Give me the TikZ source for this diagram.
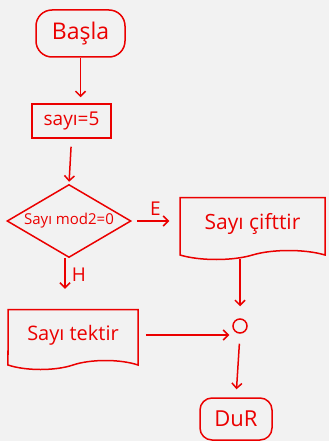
\documentclass[tikz,border=0pt]{standalone}
\usepackage{fontspec}
\setmainfont{Open Sans}
\usetikzlibrary{shapes.geometric,shapes.symbols,arrows.meta}
\definecolor{ink}{RGB}{235,0,0}
\definecolor{bg}{RGB}{242,242,242}
\begin{document}
\begin{tikzpicture}[x=1pt,y=-1pt,
  box/.style={draw=ink, line width=1.5pt, text=ink, inner sep=0pt},
  term/.style={box, rectangle, rounded corners=16pt},
  proc/.style={box, rectangle},
  dec/.style={box, diamond, aspect=1.67},
  doc/.style={box, tape, tape bend top=none, tape bend bottom=in and out, tape bend height=9pt},
  flow/.style={draw=ink, line width=1.5pt, -{Straight Barb[length=5pt,width=10pt]}},
  lbl/.style={text=ink, font=\fontsize{19}{19}\selectfont, inner sep=0pt}]
\fill[bg] (0,0) rectangle (329,441);
\useasboundingbox (0,0) rectangle (329,441);

\node[term, minimum width=89pt, minimum height=47pt, font=\fontsize{23}{23}\selectfont] (basla) at (80.5,33.5) {Başla};
\node[proc, minimum width=79pt, minimum height=34pt, font=\fontsize{19}{19}\selectfont] (sayi5) at (71.5,121) {sayı=5};
\node[dec, minimum width=124pt, minimum height=73pt, font=\fontsize{15}{15}\selectfont] (dec) at (69,221) {Sayı mod2=0};
\node[doc, minimum width=145pt, minimum height=62pt, font=\fontsize{21}{21}\selectfont] (cift) at (252.5,224) {Sayı çifttir};
\node[doc, minimum width=130pt, minimum height=60pt, font=\fontsize{20}{20}\selectfont] (tek) at (73,335) {Sayı tektir};
\node[box, circle, minimum size=14pt] (join) at (240,326) {};
\node[term, rounded corners=12pt, minimum width=72pt, minimum height=42pt, font=\fontsize{22}{22}\selectfont] (dur) at (236,419) {DuR};

\draw[flow, shorten >=6pt] (basla.south) -- (basla.south |- sayi5.north);
\draw[flow, shorten <=8pt, shorten >=2pt] (sayi5.south) -- (dec.north);
\draw[flow, shorten <=5pt, shorten >=10pt] (dec.east) -- node[lbl, above=5pt] (e) {E} (cift.west |- dec.east);
\draw[flow, shorten >=20pt] ([xshift=-4pt]dec.south) -- ([xshift=-4pt]dec.south |- tek.north) node[lbl, pos=0.33, right=6pt] (h) {H};
\draw[flow, shorten <=8pt, shorten >=12pt] (join.north |- cift.south) -- (join.north);
\draw[flow, shorten <=7pt, shorten >=3pt] (tek.east) -- (tek.east -| join.west);
\draw[flow, shorten <=10pt, shorten >=8pt] (join.south) -- (dur.north);
\end{tikzpicture}
\end{document}
